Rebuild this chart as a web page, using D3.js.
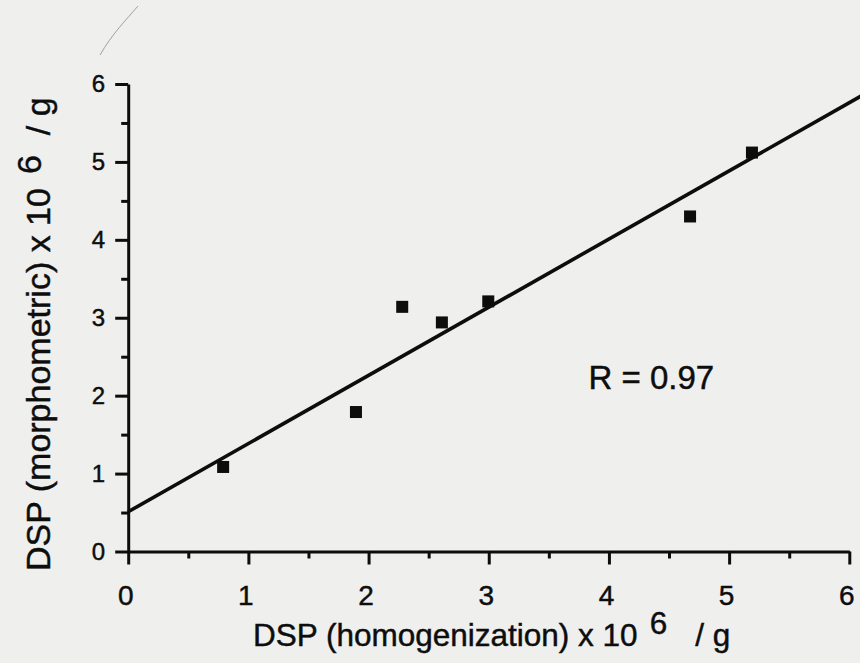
<!DOCTYPE html>
<html>
<head>
<meta charset="utf-8">
<script src="https://cdn.jsdelivr.net/npm/d3@7/dist/d3.min.js"></script>
<style>
  html, body { margin: 0; padding: 0; background: #efefee; }
  svg { display: block; }
  svg text { font-family: "Liberation Sans", Arial, Helvetica, sans-serif; fill: #0d0d0d; stroke: #0d0d0d; stroke-width: 0.45px; }
</style>
</head>
<body>
<svg id="chart" width="860" height="663"></svg>
<script>
// DSP per gram: homogenization (x) vs morphometric (y) estimates, both x 10^6
const homogenization = [0.79, 1.895, 2.28, 2.61, 2.996, 4.675, 5.19];
const morphometric   = [1.085, 1.79, 3.14, 2.94, 3.21, 4.30, 5.12];

// fitted regression line y = intercept + slope * x
const fitIntercept = 0.51;
const fitSlope = 0.875;
const fitLabel = "R = 0.97";

const xTicks = [0, 1, 2, 3, 4, 5, 6];
const yTicks = [0, 1, 2, 3, 4, 5, 6];
const xMinorTicks = [0.5, 1.5, 2.5, 3.5, 4.5, 5.5];
const yMinorTicks = [0.5, 1.5, 2.5, 3.5, 4.5, 5.5];

const W = 860, H = 663;
const margin = { left: 128.2, right: 10.7, top: 84, bottom: 111.5 };

const svg = d3.select("#chart");

const x = d3.scaleLinear().domain([0, 6]).range([margin.left, W - margin.right]);
const y = d3.scaleLinear().domain([0, 6]).range([H - margin.bottom, margin.top]);

const ink = "#0d0d0d";
const axisWidth = 3;

// faint pen stroke near the top-left corner of the sheet
svg.append("path")
  .attr("d", "M138,6 C126,20 112,34 100,55")
  .attr("fill", "none")
  .attr("stroke", "#a0a0a0")
  .attr("stroke-width", 1);

function styleTicks(g, width) {
  g.selectAll("line").attr("stroke", ink).attr("stroke-width", width);
}

// minor ticks
svg.append("g")
  .attr("transform", `translate(0,${y(0)})`)
  .call(d3.axisBottom(x).tickValues(xMinorTicks).tickSize(7).tickFormat(""))
  .call(g => g.select(".domain").remove())
  .call(g => styleTicks(g, axisWidth));

svg.append("g")
  .attr("transform", `translate(${x(0)},0)`)
  .call(d3.axisLeft(y).tickValues(yMinorTicks).tickSize(7).tickFormat(""))
  .call(g => g.select(".domain").remove())
  .call(g => styleTicks(g, axisWidth));

// major axes
const xAxis = svg.append("g")
  .attr("transform", `translate(0,${y(0)})`)
  .call(d3.axisBottom(x).tickValues(xTicks).tickSize(13).tickSizeOuter(0).tickPadding(21).tickFormat(d3.format("d")));
xAxis.attr("font-size", 28).attr("font-family", null);
xAxis.select(".domain").attr("stroke", ink).attr("stroke-width", axisWidth);
styleTicks(xAxis, axisWidth);
xAxis.selectAll("text").attr("dx", "-3").attr("fill", ink);

const yAxis = svg.append("g")
  .attr("transform", `translate(${x(0)},0)`)
  .call(d3.axisLeft(y).tickValues(yTicks).tickSize(13).tickSizeOuter(0).tickPadding(10).tickFormat(d3.format("d")));
yAxis.attr("font-size", 24).attr("font-family", null);
yAxis.select(".domain").attr("stroke", ink).attr("stroke-width", axisWidth);
styleTicks(yAxis, axisWidth);
yAxis.selectAll("text").attr("fill", ink);

// regression line, running past the right edge
const fitX = [0, 6.3];
svg.append("line")
  .attr("x1", x(fitX[0])).attr("y1", y(fitIntercept + fitSlope * fitX[0]))
  .attr("x2", x(fitX[1])).attr("y2", y(fitIntercept + fitSlope * fitX[1]))
  .attr("stroke", ink)
  .attr("stroke-width", 3.6);

// data points as filled squares
const pts = homogenization.map((v, i) => ({ h: v, m: morphometric[i] }));
const sq = 12;
svg.append("g").selectAll("rect")
  .data(pts)
  .join("rect")
  .attr("x", d => x(d.h) - sq / 2)
  .attr("y", d => y(d.m) - sq / 2)
  .attr("width", sq)
  .attr("height", sq)
  .attr("fill", ink);

// correlation annotation
svg.append("text")
  .attr("x", x(3.83))
  .attr("y", y(2.09))
  .style("font-size", "33px")
  .text(fitLabel);

// x axis title
const xt = svg.append("text")
  .attr("x", 253)
  .attr("y", 646)
  .style("font-size", "31.5px");
xt.append("tspan").text("DSP (homogenization) x 10");
xt.append("tspan").attr("dx", 12).attr("dy", -12).text("6");
xt.append("tspan").attr("dx", 28).attr("dy", 12).text("/ g");

// y axis title
const yt = svg.append("text")
  .attr("transform", "translate(50,571) rotate(-90)")
  .style("font-size", "34px");
yt.append("tspan").text("DSP (morphometric) x 10");
yt.append("tspan").attr("dx", 14).attr("dy", -9).text("6");
yt.append("tspan").attr("dx", 20).attr("dy", 9).text("/ g");
</script>
</body>
</html>
